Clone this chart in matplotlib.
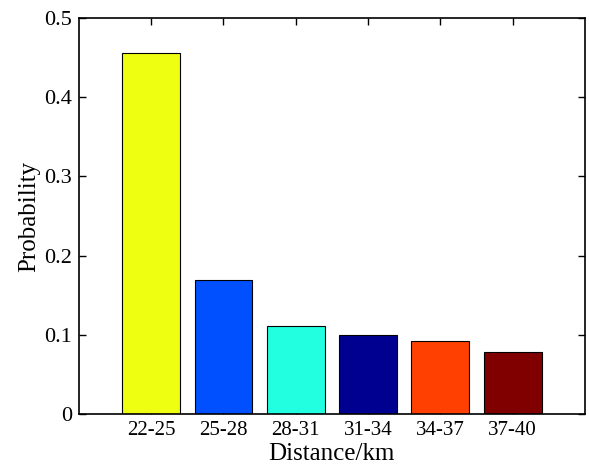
import numpy as np
import matplotlib
matplotlib.use("Agg")
import matplotlib.pyplot as plt
from matplotlib.ticker import FormatStrFormatter

plt.rcParams['font.family'] = ['Liberation Serif', 'DejaVu Serif']

# distance bins and their probabilities
categories = ["22-25", "25-28", "28-31", "31-34", "34-37", "37-40"]
probability = [0.456, 0.1686, 0.1104, 0.0991, 0.0919, 0.0783]
bar_colors = ["#EEFF11", "#0050FF", "#22FFE0", "#000090", "#FF4000", "#800000"]

fig = plt.figure(figsize=(5.89, 4.65), dpi=100)
ax = fig.add_axes([0.134, 0.110, 0.859, 0.851])

x = np.arange(1, len(categories) + 1)
ax.bar(x, probability, width=0.8, color=bar_colors, edgecolor="black", linewidth=0.8)
ax.set_axisbelow(True)

ax.set_xlim(0, 7)
ax.set_ylim(0, 0.5)
ax.set_xticks(x)
ax.set_xticklabels(categories)
ax.set_yticks([0, 0.1, 0.2, 0.3, 0.4, 0.5])
ax.yaxis.set_major_formatter(FormatStrFormatter("%g"))

ax.tick_params(direction="in", top=True, right=True, length=5, width=1)
ax.tick_params(axis="x", labelsize=15, pad=5)
ax.tick_params(axis="y", labelsize=16, pad=5)
for s in ax.spines.values():
    s.set_linewidth(1.2)

ax.set_ylabel("Probability", fontsize=18, labelpad=3)

# x label baseline placed just above the bottom edge of the figure
ax.set_xlabel("Distance/km", fontsize=18)
ax.xaxis.label.set_verticalalignment("baseline")
ax.xaxis.set_label_coords(0.5, -0.117)

fig.savefig("out.png", dpi=100)
